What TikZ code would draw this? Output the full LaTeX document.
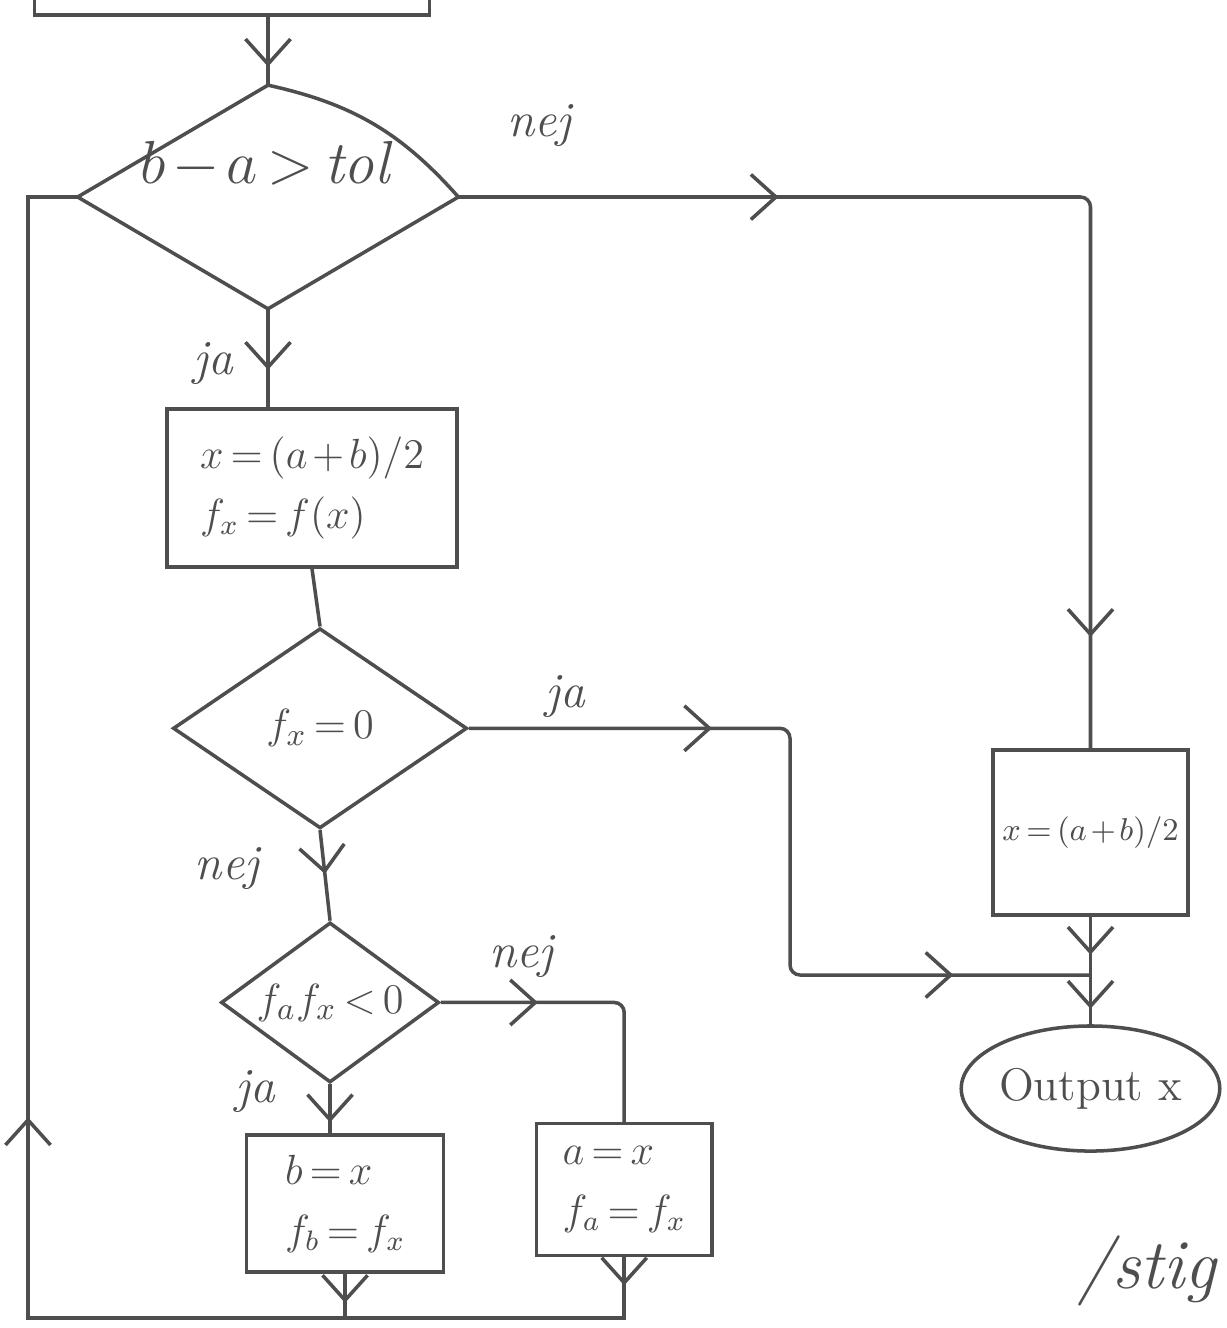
\documentclass[tikz,border=0pt]{standalone}
\usetikzlibrary{positioning,arrows.meta,shapes.geometric,decorations.markings}
\definecolor{pencil}{RGB}{78,78,78}
\newcommand\tightmath{\medmuskip=2mu\thickmuskip=3mu}

\begin{document}
\begin{tikzpicture}[x=0.01cm, y=-0.01cm, node distance=2cm, on grid, auto,
    >={Straight Barb[length=2.5mm,width=4.5mm]},
    penline/.style={draw=pencil, line width=1pt},
    procbox/.style={penline, rectangle, inner sep=0pt, text=pencil, align=left,
      font=\fontsize{12}{17}\selectfont\tightmath},
    decision/.style={penline, diamond, inner sep=0pt, text=pencil,
      font=\fontsize{13}{15}\selectfont\tightmath},
    terminal/.style={penline, ellipse, inner sep=0pt, text=pencil,
      font=\fontsize{13}{15}\selectfont},
    answer/.style={text=pencil, font=\itshape\fontsize{14}{16}\selectfont, inner sep=1pt},
    arrowat/.style={postaction={decorate,
      decoration={markings, mark=at position #1 with {\arrow{>}}}}}]
    \fill[white] (0,0) rectangle (1226,1328);
    \useasboundingbox (0,0) rectangle (1226,1328);

    \node[decision, draw=none, minimum width=3.77cm, minimum height=2.2cm, aspect=1.7,
      font=\fontsize{16}{18}\selectfont\tightmath] (cond) at (268,197)
      {\makebox[0pt]{\raisebox{1.3mm}[0pt][0pt]{$b-a>\mathit{tol}$}}};
    \draw[penline] (cond.north) to[bend left=18] (cond.east) -- (cond.south)
      -- (cond.west) -- cycle;

    \node[procbox, minimum width=3.95cm, minimum height=1cm] (init)
      [above left=2.32cm and 0.36cm of cond] {};
    \node[procbox, minimum width=2.9cm, minimum height=1.58cm] (midpoint)
      [below right=2.91cm and 0.44cm of cond] {$x=(a+b)/2$\\$f_x=f(x)$};
    \node[decision, minimum width=2.94cm, minimum height=2cm, aspect=1.47] (iszero)
      [below right=2.4cm and 0.08cm of midpoint] {$f_x=0$};
    \node[decision, minimum width=2.18cm, minimum height=1.6cm, aspect=1.36] (signchk)
      [below right=2.74cm and 0.1cm of iszero] {$f_af_x<0$};
    \node[procbox, minimum width=1.97cm, minimum height=1.37cm] (setb)
      [below right=2.01cm and 0.15cm of signchk] {$b=x$\\$f_b=f_x$};
    \node[procbox, minimum width=1.75cm, minimum height=1.32cm] (seta)
      [above right=0.14cm and 2.79cm of setb] {$a=x$\\$f_a=f_x$};
    \node[procbox, minimum width=1.95cm, minimum height=1.65cm,
      font=\fontsize{9}{11}\selectfont\tightmath] (result)
      [below right=1.04cm and 7.7cm of iszero] {$x=(a+b)/2$};
    \node[terminal, minimum width=2.58cm, minimum height=1.25cm] (output)
      [below=2.56cm of result] {Output x};
    \node[answer, font=\itshape\fontsize{20}{24}\selectfont] (sign)
      [below right=1.82cm and 0.56cm of output] {/stig};

    \coordinate (loopcorner) at (28,1318);
    \coordinate (jbend) at (790,975);
    \coordinate (join) at (1090,975);

    \draw[penline, arrowat=0.5cm] (cond.north |- init.south) -- (cond.north);
    \draw[penline, rounded corners=1mm, arrowat=3.2cm, arrowat=10.67cm]
      (cond.east) -| node[answer, pos=0.064, above=4.5mm] {nej} (result.north);
    \draw[penline, arrowat=0.61cm] (cond.south)
      -- node[answer, pos=0.56, left=3mm] {ja} (cond.south |- midpoint.north);
    \draw[penline] (midpoint.south) -- (iszero.north);
    \draw[penline, rounded corners=1mm, arrowat=2.43cm, arrowat=7.22cm]
      (iszero.east) -| node[answer, pos=0.15, above=0.5mm] {ja} (jbend) -- (join);
    \draw[penline, arrowat=0.44cm] (iszero.south)
      -- node[answer, pos=0.42, left=6mm] {nej} (signchk.north);
    \draw[penline, rounded corners=1mm, arrowat=0.97cm]
      (signchk.east) -| node[answer, pos=0.22, above=2mm] {nej} (seta.north);
    \draw[penline, arrowat=0.38cm] (signchk.south)
      -- node[answer, pos=0.15, left=5mm] {ja} (signchk.south |- setb.north);
    \draw[penline, arrowat=0.38cm, arrowat=0.92cm] (result.south) -- (output.north);
    \draw[penline, arrowat=0.29cm] (setb.south) -- (setb.south |- loopcorner);
    \draw[penline, arrowat=0.28cm, arrowat=8.57cm] (seta.south) -- (seta.south |- loopcorner)
      -- (loopcorner) -- (loopcorner |- cond.west) -- (cond.west);
\end{tikzpicture}
\end{document}
